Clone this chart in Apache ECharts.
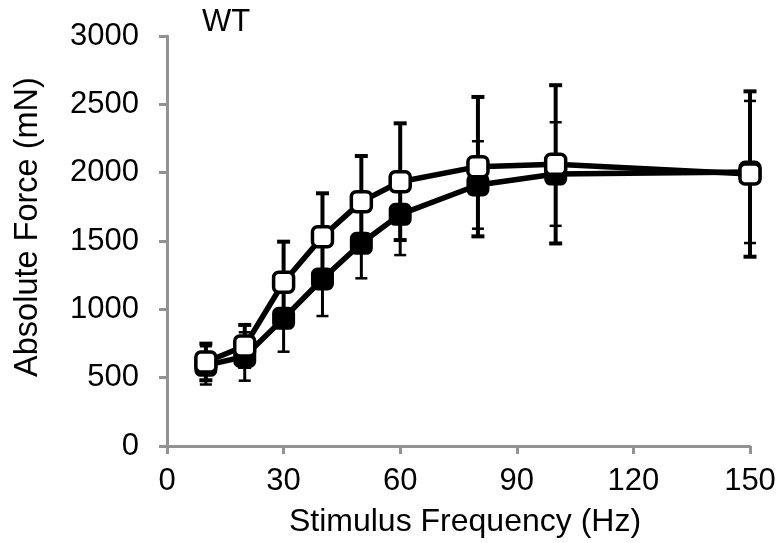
<!DOCTYPE html>
<html>
<head>
<meta charset="utf-8">
<script src="https://cdn.jsdelivr.net/npm/echarts@6/dist/echarts.min.js"></script>
<style>html,body{margin:0;padding:0;background:#fff;}#chart{width:781px;height:543px;}</style>
</head>
<body>
<div id="chart"></div>
<script>
var freq = [10, 20, 30, 40, 50, 60, 80, 100, 150];
var openMean = [615, 732, 1198, 1531, 1788, 1934, 2044, 2061, 1990];
var openErr = [134, 154, 297, 318, 334, 427, 510, 579, 605];
var filledMean = [590, 655, 934, 1222, 1483, 1695, 1910, 1990, 2005];
var filledErr = [140, 177, 244, 271, 256, 298, 320, 379, 520];
var xTicks = [0, 30, 60, 90, 120, 150];
var yTicks = [0, 500, 1000, 1500, 2000, 2500, 3000];

var FONT = "'Liberation Sans', Arial, sans-serif";

function pairs(xs, ys) { return xs.map(function (x, i) { return [x, ys[i]]; }); }
function errData(xs, m, e) { return xs.map(function (x, i) { return [x, m[i] - e[i], m[i] + e[i]]; }); }

function errRender(lw, capW, capLw) {
  return function (params, api) {
    var x = api.value(0), lo = api.value(1), hi = api.value(2);
    var pL = api.coord([x, lo]), pH = api.coord([x, hi]);
    var st = { stroke: '#000', lineWidth: lw };
    var cs = { stroke: '#000', lineWidth: capLw };
    return {
      type: 'group',
      children: [
        { type: 'line', shape: { x1: pL[0], y1: pL[1], x2: pH[0], y2: pH[1] }, style: st },
        { type: 'line', shape: { x1: pL[0] - capW / 2, y1: pL[1], x2: pL[0] + capW / 2, y2: pL[1] }, style: cs },
        { type: 'line', shape: { x1: pH[0] - capW / 2, y1: pH[1], x2: pH[0] + capW / 2, y2: pH[1] }, style: cs }
      ]
    };
  };
}

var chart = echarts.init(document.getElementById('chart'));
var axisColor = '#929292';
chart.setOption({
  animation: false,
  backgroundColor: '#fff',
  grid: { left: 167, right: 31, top: 36, bottom: 97, containLabel: false },
  xAxis: {
    type: 'value', min: xTicks[0], max: xTicks[xTicks.length - 1], interval: 30,
    axisLine: { show: true, lineStyle: { color: axisColor, width: 3 } },
    axisTick: { show: true, length: 8, lineStyle: { color: axisColor, width: 3 } },
    splitLine: { show: false },
    axisLabel: { color: '#000', fontSize: 31, fontFamily: FONT, margin: 20, formatter: function (v) { return String(v); } }
  },
  yAxis: {
    type: 'value', min: yTicks[0], max: yTicks[yTicks.length - 1], interval: 500,
    axisLine: { show: true, lineStyle: { color: axisColor, width: 3 } },
    axisTick: { show: true, length: 8, lineStyle: { color: axisColor, width: 3 } },
    splitLine: { show: false },
    axisLabel: { color: '#000', fontSize: 31, fontFamily: FONT, margin: 28, formatter: function (v) { return String(v); } }
  },
  graphic: [
    { type: 'text', left: 202, top: 7, style: { text: 'WT', fontSize: 31, fontFamily: FONT, fill: '#000' } },
    { type: 'text', x: 465, y: 522, style: { text: 'Stimulus Frequency (Hz)', fontSize: 32, fontFamily: FONT, fill: '#000', textAlign: 'center', textVerticalAlign: 'middle' } },
    { type: 'text', x: 28, y: 227, rotation: Math.PI / 2, style: { text: 'Absolute Force (mN)', fontSize: 32.5, fontFamily: FONT, fill: '#000', textAlign: 'center', textVerticalAlign: 'middle' } }
  ],
  series: [
    { type: 'custom', name: 'filledErr', renderItem: errRender(3, 12, 2.5), data: errData(freq, filledMean, filledErr), z: 2 },
    { type: 'custom', name: 'openErr', renderItem: errRender(4, 13, 4), data: errData(freq, openMean, openErr), z: 2 },
    {
      type: 'line', name: 'filled', data: pairs(freq, filledMean), z: 3,
      symbol: 'roundRect', symbolSize: 20, showAllSymbol: true,
      lineStyle: { color: '#000', width: 5.5 },
      itemStyle: { color: '#000', borderColor: '#000', borderWidth: 3 }
    },
    {
      type: 'line', name: 'open', data: pairs(freq, openMean), z: 4,
      symbol: 'roundRect', symbolSize: 20, showAllSymbol: true,
      lineStyle: { color: '#000', width: 5.5 },
      itemStyle: { color: '#fff', borderColor: '#000', borderWidth: 3.5 }
    }
  ]
});
</script>
</body>
</html>
